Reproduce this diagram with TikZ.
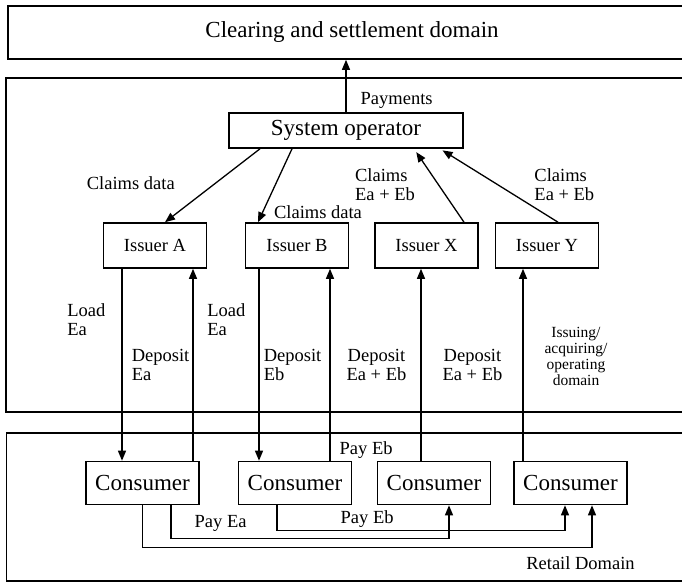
\documentclass[tikz,border=0pt]{standalone}
\usepackage{fontspec}
\setmainfont{Liberation Serif}
\usetikzlibrary{arrows.meta, positioning}

\newcommand{\bigfont}{\fontsize{23}{26}\selectfont}
\newcommand{\smallfont}{\fontsize{18.5}{19}\selectfont}

\tikzset{
  domainbox/.style={rectangle, draw, line width=1.6pt, minimum width=688pt},
  block/.style={rectangle, draw, line width=1.6pt, font=\bigfont},
  issuer/.style={block, font=\smallfont, minimum width=103pt, minimum height=45pt},
  consumer/.style={block, minimum width=113pt, minimum height=43pt},
  arrow/.style={-{Triangle[length=10pt, width=8pt]}, line width=1.3pt},
  lbl/.style={font=\smallfont, align=left, inner sep=2pt},
}

\begin{document}
\begin{tikzpicture}[x=1pt, y=-1pt]
\useasboundingbox (0,0) rectangle (682,583);
\clip (0,0) rectangle (682,583);

% domains
\node[domainbox, minimum height=53pt, font=\bigfont] (clearing) at (352,32.5) {Clearing and settlement domain};
\node[domainbox, minimum height=334pt] (issuing) at (350,245) {};
\node[domainbox, minimum height=148pt] (retail) at (350.5,507) {};

\node[block, minimum width=234pt, minimum height=35pt] (sysop) at (346,130.5) {System operator};
\node[issuer] (issA) at (155,245.5) {Issuer A};
\node[issuer] (issB) at (297,245.5) {Issuer B};
\node[issuer] (issX) at (426.5,245.5) {Issuer X};
\node[issuer] (issY) at (547,245.5) {Issuer Y};
\node[consumer] (con1) at (142.5,483) {Consumer};
\node[consumer] (con2) at (295,483) {Consumer};
\node[consumer] (con3) at (434,483) {Consumer};
\node[consumer] (con4) at (570.5,483) {Consumer};

\node[font=\fontsize{15.5}{16}\selectfont, align=center] (opLbl) at (576,356) {Issuing/\\acquiring/\\operating\\domain};
\node[lbl] (retailLbl) at (580.5,563) {Retail Domain};

% operator level
\draw[arrow] (sysop.north) -- node[lbl, pos=0.22, right=12pt] {Payments} (sysop.north |- clearing.south);
\draw[arrow] ([xshift=-86pt]sysop.south) -- node[lbl, pos=0.47, left=38pt] {Claims data} ([xshift=10pt]issA.north);
\draw[arrow] ([xshift=-54pt]sysop.south) -- node[lbl, pos=0.87, right=9pt] {Claims data} ([xshift=-39pt]issB.north);
\draw[arrow, shorten >=4pt] ([xshift=37.5pt]issX.north) -- node[lbl, pos=0.51, left=21pt] {Claims\\Ea + Eb} ([xshift=68pt]sysop.south);
\draw[arrow, shorten >=3pt] ([xshift=11pt]issY.north) -- node[lbl, pos=0.51, right=34pt] {Claims\\Ea + Eb} ([xshift=94pt]sysop.south);

% issuers and consumers
\draw[arrow] ([xshift=-33pt]issA.south) -- node[lbl, pos=0.265, left=14pt] {Load\\Ea} ([xshift=-33pt]issA.south |- con1.north);
\draw[arrow] ([xshift=50.5pt]con1.north) -- node[lbl, pos=0.5, left=1pt] {Deposit\\Ea} ([xshift=50.5pt]con1.north |- issA.south);
\draw[arrow] ([xshift=-38pt]issB.south) -- node[lbl, pos=0.265, left=11pt] {Load\\Ea} ([xshift=-38pt]issB.south |- con2.north);
\draw[arrow] ([xshift=35pt]con2.north) node[lbl, anchor=south west, xshift=7pt] {Pay Eb}
  -- node[lbl, pos=0.5, left=6pt] {Deposit\\Eb} ([xshift=35pt]con2.north |- issB.south);
\draw[arrow] ([xshift=-13pt]con3.north) -- node[lbl, pos=0.5, left=12pt, align=center] {Deposit\\Ea + Eb} ([xshift=-13pt]con3.north |- issX.south);
\draw[arrow] ([xshift=-47.5pt]con4.north) -- node[lbl, pos=0.5, left=18pt, align=center] {Deposit\\Ea + Eb} ([xshift=-47.5pt]con4.north |- issY.south);

% retail payments
\draw[arrow] (con1.south) -- ++(0,42) -| ([xshift=21.5pt]con4.south);
\draw[arrow] ([xshift=28.5pt]con1.south) -- ++(0,33) node[lbl, anchor=south west, xshift=21pt, yshift=4pt] {Pay Ea} -| ([xshift=15pt]con3.south);
\draw[arrow] ([xshift=-18pt]con2.south) -- ++(0,25) node[lbl, anchor=south west, xshift=61pt] {Pay Eb} -| ([xshift=-5.5pt]con4.south);
\end{tikzpicture}
\end{document}
